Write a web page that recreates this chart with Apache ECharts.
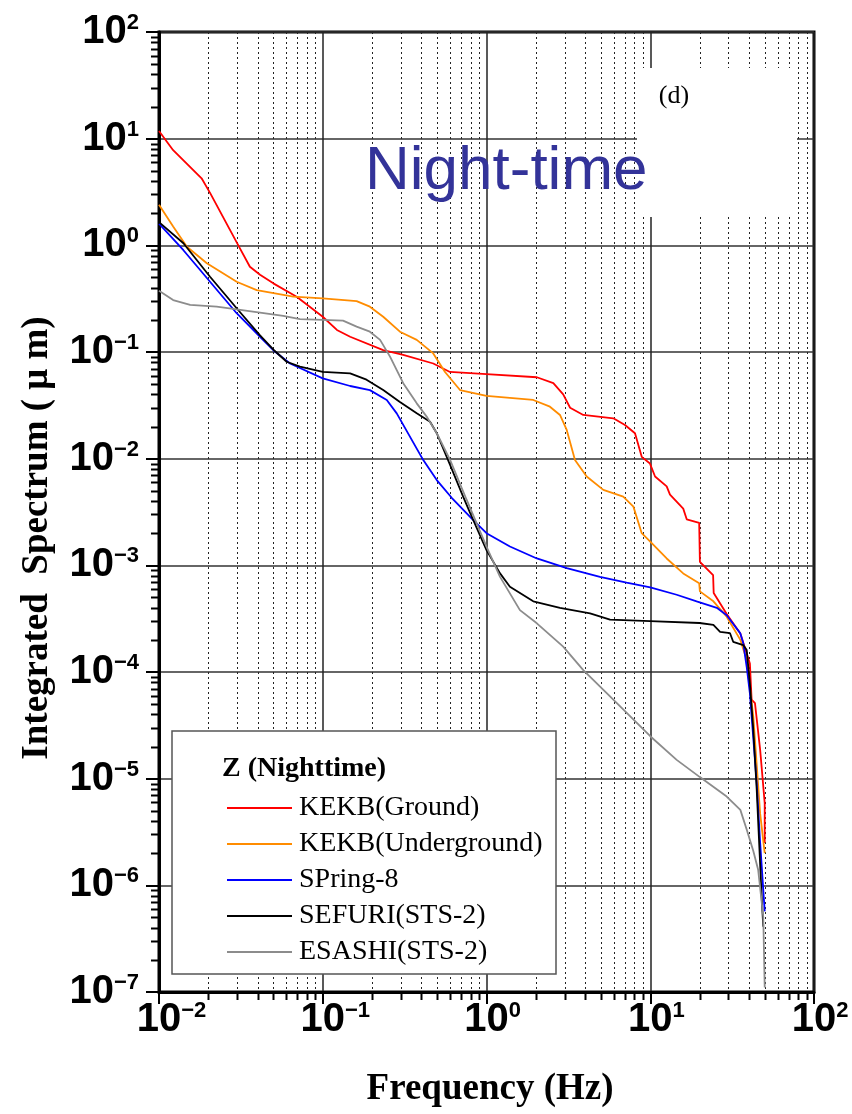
<!DOCTYPE html>
<html><head><meta charset="utf-8">
<script src="https://cdn.jsdelivr.net/npm/echarts@6/dist/echarts.min.js"></script>
<style>html,body{margin:0;padding:0;background:#fff}#c{width:852px;height:1114px}</style>
</head><body><div id="c"></div>
<script>
// ---- data: [frequency (Hz), integrated spectrum (um)] ----
const kekbGround = [[0.0100,11.8],[0.0122,7.8],[0.0182,4.25],[0.0205,3.1],[0.0305,1.0],[0.0359,0.63],[0.0414,0.53],[0.0499,0.44],[0.0693,0.33],[0.100,0.214],[0.122,0.161],[0.147,0.139],[0.234,0.104],[0.31,0.094],[0.473,0.078],[0.598,0.065],[1.0,0.062],[2.03,0.058],[2.56,0.051],[2.94,0.040],[3.24,0.030],[3.9,0.0257],[5.95,0.0239],[7.01,0.0207],[8.07,0.0173],[8.87,0.0104],[9.96,0.0090],[10.7,0.0068],[12.6,0.0055],[13.2,0.0046],[15.9,0.0034],[16.7,0.0027],[19.9,0.0025],[20.1,0.00108],[24.2,0.00081],[24.4,0.00055],[29.3,0.00035],[35.5,0.00023],[40.6,0.00012],[41.6,5.5e-5],[43.6,5.1e-5],[46.9,1.86e-5],[50.0,5.9e-6],[50.0,2.5e-6]];
const kekbUnderground = [[0.0100,2.4],[0.0122,1.5],[0.0148,0.97],[0.0196,0.68],[0.0298,0.456],[0.0395,0.38],[0.066,0.33],[0.100,0.318],[0.161,0.30],[0.194,0.266],[0.234,0.214],[0.296,0.155],[0.375,0.13],[0.473,0.097],[0.558,0.065],[0.689,0.044],[1.0,0.0387],[1.93,0.0355],[2.44,0.0307],[2.81,0.0257],[3.09,0.0186],[3.47,0.0097],[4.09,0.0068],[5.17,0.0051],[6.84,0.0044],[7.89,0.00355],[8.87,0.0020],[10.0,0.00167],[12.6,0.00116],[15.9,0.00084],[19.9,0.00068],[20.1,0.00057],[24.3,0.00046],[29.3,0.00033],[35.5,0.00020],[38.8,0.00013],[42.6,3.8e-5],[46.9,4.7e-6],[50.0,2.0e-6]];
const spring8 = [[0.0100,1.6],[0.0141,0.90],[0.0205,0.456],[0.0298,0.231],[0.0414,0.139],[0.0499,0.104],[0.0631,0.078],[0.100,0.0566],[0.147,0.048],[0.194,0.0439],[0.246,0.0355],[0.283,0.0266],[0.411,0.0097],[0.497,0.0063],[0.613,0.0043],[0.83,0.00266],[1.0,0.0020],[1.39,0.0015],[2.03,0.00116],[3.09,0.00094],[4.93,0.00078],[7.17,0.00069],[10.0,0.00062],[14.5,0.00053],[19.2,0.00046],[25.5,0.00040],[29.3,0.00034],[35.5,0.00023],[37.0,0.000186],[38.8,0.000112],[40.6,6.3e-5],[44.7,9e-6],[46.9,2.5e-6],[50.0,5.7e-7]];
const sefuri = [[0.0100,1.65],[0.0141,1.045],[0.0205,0.508],[0.0298,0.257],[0.0414,0.143],[0.050,0.105],[0.0602,0.081],[0.0726,0.073],[0.100,0.065],[0.147,0.063],[0.185,0.055],[0.234,0.044],[0.296,0.034],[0.375,0.0266],[0.452,0.0222],[0.497,0.0173],[0.60,0.0087],[0.72,0.0044],[0.794,0.0031],[1.0,0.00139],[1.21,0.00084],[1.39,0.00063],[1.93,0.00046],[2.81,0.00040],[4.29,0.000355],[5.68,0.00031],[10.0,0.00030],[20.0,0.000288],[24.3,0.000276],[26.7,0.000238],[30.7,0.000231],[32.1,0.000192],[37.0,0.000179],[38.8,0.000161],[40.6,7.8e-5],[42.6,2.86e-5],[44.7,7.8e-6],[47.9,7.8e-7],[49.0,4.1e-7]];
const esashi = [[0.0100,0.376],[0.0122,0.307],[0.0155,0.276],[0.0225,0.266],[0.0298,0.251],[0.0414,0.234],[0.0574,0.218],[0.0726,0.203],[0.100,0.200],[0.133,0.197],[0.161,0.173],[0.194,0.155],[0.224,0.13],[0.258,0.090],[0.31,0.051],[0.375,0.033],[0.431,0.0248],[0.497,0.0173],[0.60,0.0097],[0.757,0.0041],[1.0,0.0015],[1.21,0.00078],[1.6,0.00038],[2.03,0.000286],[2.94,0.000173],[3.9,0.000104],[5.68,5.9e-5],[10.0,2.5e-5],[14.5,1.5e-5],[20.0,1.04e-5],[29.3,6.8e-6],[35.5,5.1e-6],[38.9,3.3e-6],[42.6,2.1e-6],[45.6,1.4e-6],[49.0,5.1e-7],[50.0,1.1e-7]];

const seriesNames = ['KEKB(Ground)','KEKB(Underground)','SPring-8','SEFURI(STS-2)','ESASHI(STS-2)'];
const seriesColors = ['#ff0000','#ff8c00','#0000ff','#000000','#8c8c8c'];
const seriesData = [kekbGround, kekbUnderground, spring8, sefuri, esashi];

// axis range and minor tick positions
const xRange = [0.01, 100];
const yRange = [1e-7, 100];
const minorX = [0.02,0.03,0.04,0.05,0.06,0.07,0.08,0.09, 0.2,0.3,0.4,0.5,0.6,0.7,0.8,0.9, 2,3,4,5,6,7,8,9, 20,30,40,50,60,70,80,90];
const minorY = [];
[-7,-6,-5,-4,-3,-2,-1,0,1].forEach(e => { [2,3,4,5,6,7,8,9].forEach(m => minorY.push(m * Math.pow(10, e))); });

const legendTitle = 'Z (Nighttime)';
const panelLabel = '(d)';
const bigLabel = 'Night-time';
const xTitle = 'Frequency (Hz)';
const yTitle = 'Integrated  Spectrum ( μ m)';

function expOf(v){ const e = Math.round(Math.log10(v)); return (e < 0 ? '\u2212' + (-e) : '' + e); }

const supStyle = {fontFamily:'Liberation Sans', fontWeight:'bold', fontSize:22, lineHeight:22, verticalAlign:'top', color:'#000'};
const baseStyle = {fontFamily:'Liberation Sans', fontWeight:'bold', fontSize:40, lineHeight:40, verticalAlign:'bottom', color:'#000'};

const chart = echarts.init(document.getElementById('c'), null, {renderer:'canvas'});

const lineSeries = seriesData.map((d, i) => ({
  name: seriesNames[i], type: 'line', data: d, symbol: 'none', showSymbol: false,
  lineStyle: {color: seriesColors[i], width: 1.8}, itemStyle: {color: seriesColors[i]},
  z: 2, silent: true
}));

const minorXSeries = {
  type: 'custom', coordinateSystem: 'cartesian2d', silent: true, clip: false, z: 1,
  data: minorX.map(v => [v, 1]), encode: {x: 0, y: 1},
  renderItem: (params, api) => {
    const t = api.coord([api.value(0), yRange[1]]);
    const b = api.coord([api.value(0), yRange[0]]);
    const x = Math.round(t[0]) + 0.5;
    return {type: 'group', children: [
      {type: 'line', shape: {x1: x, y1: t[1], x2: x, y2: b[1]}, style: {stroke: '#222', lineWidth: 1, lineDash: [2, 3]}},
      {type: 'line', shape: {x1: x, y1: b[1], x2: x, y2: b[1] + 8}, style: {stroke: '#000', lineWidth: 2}}
    ]};
  }
};
const minorYSeries = {
  type: 'custom', coordinateSystem: 'cartesian2d', silent: true, clip: false, z: 1,
  data: minorY.map(v => [1, v]), encode: {x: 0, y: 1},
  renderItem: (params, api) => {
    const p = api.coord([xRange[0], api.value(1)]);
    const y = Math.round(p[1]) + 0.5;
    return {type: 'line', shape: {x1: p[0] - 8, y1: y, x2: p[0], y2: y}, style: {stroke: '#000', lineWidth: 2}};
  }
};

const option = {
  animation: false,
  backgroundColor: '#fff',
  grid: {left: 159, top: 32, right: 38, bottom: 122, show: true, borderColor: '#000', borderWidth: 3, backgroundColor: 'transparent', outerBoundsMode: 'none', containLabel: false},
  xAxis: {
    type: 'log', logBase: 10, min: xRange[0], max: xRange[1], splitNumber: 4,
    axisLine: {show: true, lineStyle: {color: '#000', width: 3}},
    axisTick: {show: true, inside: false, length: 12, lineStyle: {color: '#000', width: 2}},
    splitLine: {show: true, lineStyle: {color: '#222', width: 1.5}},
    minorTick: {show: false}, minorSplitLine: {show: false},
    axisLabel: {
      margin: 8,
      formatter: v => { const s = expOf(v); return '{h|' + s + '}{b|10}{s|' + s + '}'; },
      rich: {b: baseStyle, s: supStyle, h: Object.assign({}, supStyle, {color: 'rgba(0,0,0,0)'})}
    }
  },
  yAxis: {
    type: 'log', logBase: 10, min: yRange[0], max: yRange[1], splitNumber: 9,
    axisLine: {show: true, lineStyle: {color: '#000', width: 3}},
    axisTick: {show: true, inside: false, length: 13, lineStyle: {color: '#000', width: 2}},
    splitLine: {show: true, lineStyle: {color: '#333', width: 1.5}},
    minorTick: {show: false}, minorSplitLine: {show: false},
    axisLabel: {
      margin: 20,
      formatter: v => '{b|10}{s|' + expOf(v) + '}',
      rich: {b: baseStyle, s: supStyle}
    }
  },
  legend: {
    data: seriesNames.map((n, i) => ({name: n, icon: 'rect', itemStyle: {color: seriesColors[i]}})),
    orient: 'vertical', left: 222, top: 789, itemWidth: 65, itemHeight: 2, itemGap: 8,
    selectedMode: false, z: 6,
    textStyle: {fontFamily: 'Liberation Serif', fontSize: 28, lineHeight: 28, color: '#000', padding: [0, 0, 0, 2]}
  },
  graphic: [
    {type: 'rect', z: 4, shape: {x: 172, y: 731, width: 384, height: 243}, style: {fill: '#fff', stroke: '#555', lineWidth: 1.5}},
    {type: 'rect', z: 4, shape: {x: 637, y: 68, width: 160, height: 149}, style: {fill: '#fff'}},
    {type: 'text', z: 10, x: 222, y: 769, style: {text: legendTitle, font: 'bold 28px "Liberation Serif"', fill: '#000', textAlign: 'left', textVerticalAlign: 'middle'}},
    {type: 'text', z: 10, x: 674, y: 96, style: {text: panelLabel, font: '26px "Liberation Serif"', fill: '#000', textAlign: 'center', textVerticalAlign: 'middle'}},
    {type: 'text', z: 10, x: 365, y: 172, style: {text: bigLabel, font: '62px "Liberation Sans"', fill: '#333399', textAlign: 'left', textVerticalAlign: 'middle'}},
    {type: 'text', z: 10, x: 490, y: 1089, style: {text: xTitle, font: 'bold 37px "Liberation Serif"', fill: '#000', textAlign: 'center', textVerticalAlign: 'middle'}},
    {type: 'text', z: 10, x: 37, y: 538, rotation: Math.PI / 2, style: {text: yTitle, font: 'bold 37px "Liberation Serif"', fill: '#000', textAlign: 'center', textVerticalAlign: 'middle'}}
  ],
  series: [minorXSeries, minorYSeries].concat(lineSeries)
};
chart.setOption(option);
</script></body></html>
